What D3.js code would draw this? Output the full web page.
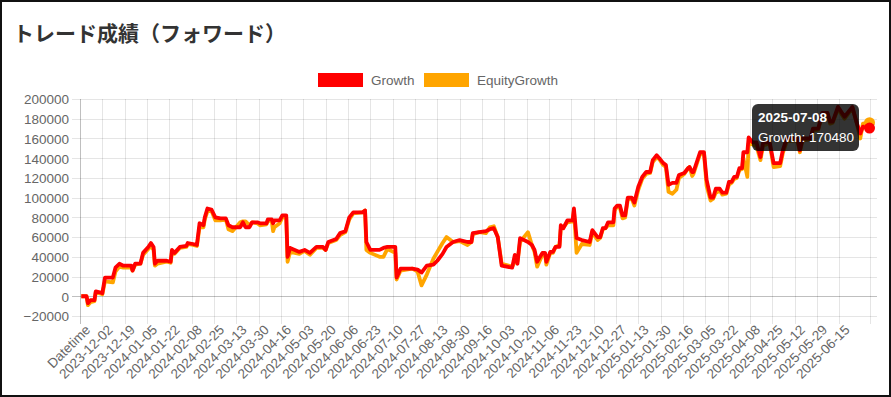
<!DOCTYPE html>
<html>
<head>
<meta charset="utf-8">
<script src="https://cdn.jsdelivr.net/npm/d3@7"></script>
<style>
  html, body { margin: 0; padding: 0; background: #fff; }
  svg { display: block; }
</style>
</head>
<body>
<svg id="chart"></svg>
<script>
// chart data
const title = 'トレード成績（フォワード）';
const seriesNames = ['Growth', 'EquityGrowth'];
const seriesColors = ['red', 'orange'];
const firstCategory = 'Datetime';
const startDate = '2023-11-15';
const endDate = '2025-07-08';

const tickLabels = ['Datetime', '2023-12-02', '2023-12-19', '2024-01-05', '2024-01-22', '2024-02-08',
  '2024-02-25', '2024-03-13', '2024-03-30', '2024-04-16', '2024-05-03', '2024-05-20', '2024-06-06',
  '2024-06-23', '2024-07-10', '2024-07-27', '2024-08-13', '2024-08-30', '2024-09-16', '2024-10-03',
  '2024-10-20', '2024-11-06', '2024-11-23', '2024-12-10', '2024-12-27', '2025-01-13', '2025-01-30',
  '2025-02-16', '2025-03-05', '2025-03-22', '2025-04-08', '2025-04-25', '2025-05-12', '2025-05-29',
  '2025-06-15'];
const yTicks = [-20000, 0, 20000, 40000, 60000, 80000, 100000, 120000, 140000, 160000, 180000, 200000];

const dates = [
  '2023-11-16', '2023-11-20', '2023-11-21', '2023-11-23', '2023-11-26', '2023-11-27', '2023-11-30',
  '2023-12-02', '2023-12-04', '2023-12-10', '2023-12-12', '2023-12-15', '2023-12-18', '2023-12-24',
  '2023-12-25', '2023-12-27', '2023-12-31', '2024-01-02', '2024-01-06', '2024-01-08', '2024-01-10',
  '2024-01-11', '2024-01-13', '2024-01-20', '2024-01-23', '2024-01-24', '2024-01-26', '2024-01-30',
  '2024-02-04', '2024-02-05', '2024-02-09', '2024-02-12', '2024-02-14', '2024-02-17', '2024-02-18',
  '2024-02-20', '2024-02-23', '2024-02-26', '2024-03-01', '2024-03-05', '2024-03-07', '2024-03-10',
  '2024-03-16', '2024-03-18', '2024-03-20', '2024-03-23', '2024-03-25', '2024-03-29', '2024-03-31',
  '2024-04-05', '2024-04-06', '2024-04-09', '2024-04-10', '2024-04-11', '2024-04-15', '2024-04-17',
  '2024-04-20', '2024-04-21', '2024-04-23', '2024-04-30', '2024-05-04', '2024-05-08', '2024-05-13',
  '2024-05-18', '2024-05-20', '2024-05-22', '2024-05-28', '2024-05-31', '2024-06-04', '2024-06-07',
  '2024-06-10', '2024-06-17', '2024-06-19', '2024-06-20', '2024-06-23', '2024-06-30', '2024-07-03',
  '2024-07-06', '2024-07-12', '2024-07-13', '2024-07-16', '2024-07-25', '2024-07-29', '2024-08-01',
  '2024-08-05', '2024-08-10', '2024-08-13', '2024-08-17', '2024-08-20', '2024-08-25', '2024-08-30',
  '2024-09-05', '2024-09-08', '2024-09-09', '2024-09-14', '2024-09-19', '2024-09-22', '2024-09-25',
  '2024-09-28', '2024-10-01', '2024-10-09', '2024-10-11', '2024-10-13', '2024-10-15', '2024-10-21',
  '2024-10-24', '2024-10-26', '2024-10-28', '2024-11-01', '2024-11-03', '2024-11-04', '2024-11-07',
  '2024-11-09', '2024-11-11', '2024-11-14', '2024-11-15', '2024-11-17', '2024-11-20', '2024-11-24',
  '2024-11-25', '2024-11-27', '2024-12-01', '2024-12-07', '2024-12-09', '2024-12-13', '2024-12-15',
  '2024-12-17', '2024-12-19', '2024-12-21', '2024-12-25', '2024-12-26', '2024-12-28', '2024-12-30',
  '2025-01-01', '2025-01-03', '2025-01-05', '2025-01-08', '2025-01-10', '2025-01-13', '2025-01-16',
  '2025-01-19', '2025-01-22', '2025-01-24', '2025-01-27', '2025-01-29', '2025-02-01', '2025-02-03',
  '2025-02-05', '2025-02-08', '2025-02-11', '2025-02-13', '2025-02-17', '2025-02-20', '2025-02-21',
  '2025-02-23', '2025-02-24', '2025-03-01', '2025-03-04', '2025-03-06', '2025-03-09', '2025-03-11',
  '2025-03-13', '2025-03-16', '2025-03-18', '2025-03-21', '2025-03-23', '2025-03-25', '2025-03-27',
  '2025-03-29', '2025-03-31', '2025-04-02', '2025-04-03', '2025-04-06', '2025-04-07', '2025-04-10',
  '2025-04-13', '2025-04-16', '2025-04-18', '2025-04-23', '2025-04-26', '2025-05-01', '2025-05-03',
  '2025-05-06', '2025-05-14', '2025-05-16', '2025-05-18', '2025-05-24', '2025-05-26', '2025-05-30',
  '2025-06-02', '2025-06-06', '2025-06-08', '2025-06-10', '2025-06-14', '2025-06-19', '2025-06-25',
  '2025-06-28', '2025-07-01', '2025-07-03', '2025-07-08'];

const growth = [
  0, 0, -7000, -4000, -4000, 5000, 4000,
  3000, 19000, 19000, 29000, 33000, 31000, 31000,
  26000, 33000, 33000, 44000, 50000, 54000, 50000,
  33000, 36000, 36000, 35000, 47000, 44000, 50000,
  51000, 54000, 53000, 52000, 74000, 72000, 80000,
  89000, 88000, 80000, 79000, 79000, 72000, 70000,
  70000, 75000, 70000, 70000, 75000, 75000, 74000,
  74000, 78000, 78000, 74000, 77000, 77000, 82000,
  82000, 40000, 49000, 45000, 47000, 44000, 50000,
  50000, 47000, 55000, 58000, 64000, 66000, 80000,
  85000, 85000, 87000, 55000, 47000, 47000, 49000,
  50000, 50000, 19000, 28000, 28000, 27000, 24000,
  31000, 32000, 36000, 43000, 50000, 55000, 57000,
  55000, 55000, 64000, 65000, 66000, 68000, 69000,
  60000, 31000, 29000, 42000, 33000, 59000, 55000,
  52000, 47000, 35000, 44000, 44000, 35000, 45000,
  45000, 50000, 50000, 72000, 69000, 77000, 77000,
  89000, 59000, 57000, 55000, 67000, 60000, 60000,
  69000, 69000, 75000, 75000, 89000, 92000, 92000,
  82000, 82000, 100000, 100000, 95000, 111000, 121000,
  126000, 126000, 138000, 143000, 140000, 135000, 133000,
  113000, 115000, 115000, 123000, 125000, 130000, 131000,
  126000, 126000, 146000, 146000, 118000, 100000, 100000,
  109000, 109000, 105000, 105000, 116000, 116000, 121000,
  121000, 130000, 130000, 146000, 146000, 161000, 156000,
  156000, 141000, 156000, 156000, 135000, 135000, 148000,
  160000, 160000, 148000, 160000, 160000, 170000, 170000,
  186000, 186000, 177000, 177000, 192000, 182000, 192000,
  177000, 165000, 172000, 170480];

const equityGrowth = [
  0, 0, -9000, -6000, -5000, 4000, 3000,
  2000, 15000, 14000, 25000, 30000, 29000, 29000,
  26000, 32000, 33000, 42000, 48000, 51000, 47000,
  31000, 33000, 35000, 34000, 45000, 43000, 49000,
  50000, 53000, 52000, 51000, 70000, 70000, 78000,
  86000, 87000, 77000, 77000, 78000, 68000, 66000,
  75000, 76000, 76000, 72000, 75000, 74000, 72000,
  73000, 77000, 76000, 66000, 70000, 74000, 80000,
  80000, 35000, 45000, 43000, 46000, 42000, 49000,
  49000, 47000, 54000, 57000, 62000, 65000, 78000,
  84000, 85000, 87000, 47000, 44000, 40000, 40000,
  48000, 44000, 17000, 26000, 28000, 25000, 11000,
  22000, 38000, 45000, 54000, 60000, 55000, 56000,
  52000, 55000, 63000, 65000, 64000, 70000, 71000,
  60000, 33000, 30000, 35000, 35000, 55000, 65000,
  52000, 45000, 30000, 42000, 43000, 32000, 44000,
  44000, 50000, 52000, 68000, 70000, 75000, 76000,
  87000, 44000, 53000, 52000, 65000, 57000, 59000,
  68000, 69000, 72000, 72000, 87000, 91000, 90000,
  79000, 80000, 98000, 99000, 92000, 108000, 119000,
  124000, 125000, 136000, 141000, 139000, 133000, 131000,
  106000, 104000, 108000, 120000, 124000, 130000, 131000,
  122000, 124000, 144000, 145000, 112000, 97000, 99000,
  105000, 107000, 103000, 104000, 113000, 115000, 119000,
  120000, 128000, 129000, 140000, 121000, 155000, 154000,
  152000, 138000, 153000, 155000, 131000, 132000, 145000,
  157000, 158000, 146000, 158000, 159000, 168000, 169000,
  183000, 185000, 175000, 176000, 190000, 180000, 191000,
  177000, 160000, 175000, 176000];

const hoverLabel = '2025-07-08';

const W = 891, H = 397;
const margin = { top: 99, left: 80, bottom: 316, plotRight: 869.5, gridRight: 877 };
const font = "'Helvetica Neue', Helvetica, Arial, 'Liberation Sans', sans-serif";
const textColor = '#666';

const svg = d3.select('#chart').attr('width', W).attr('height', H);
svg.append('rect').attr('width', W).attr('height', H).attr('fill', '#fff');

const parse = d3.utcParse('%Y-%m-%d');
const x = d3.scaleUtc()
  .domain([parse(startDate), parse(endDate)])
  .range([margin.left, margin.plotRight]);
const y = d3.scaleLinear()
  .domain([-20000, 200000])
  .range([margin.bottom, margin.top]);
const tickDate = l => l === firstCategory ? parse(startDate) : parse(l);

// title
svg.append('text')
  .attr('x', 13).attr('y', 41)
  .attr('font-family', "'Noto Sans CJK JP', sans-serif")
  .attr('font-weight', 'bold')
  .attr('font-size', 21)
  .attr('fill', '#333')
  .text(title);

// legend
const legend = svg.append('g').attr('font-family', font).attr('font-size', 13.5).attr('fill', textColor);
const legendX = [318, 424];
seriesNames.forEach((name, i) => {
  legend.append('rect')
    .attr('x', legendX[i]).attr('y', 73)
    .attr('width', 45).attr('height', 14)
    .attr('fill', seriesColors[i]);
  legend.append('text')
    .attr('x', legendX[i] + 53).attr('y', 85)
    .text(name);
});

// grid
const grid = svg.append('g');
grid.selectAll('line.h')
  .data(yTicks)
  .enter().append('line')
  .attr('x1', margin.left - 8).attr('x2', margin.gridRight)
  .attr('y1', d => Math.round(y(d)) + 0.5).attr('y2', d => Math.round(y(d)) + 0.5)
  .attr('stroke', d => d === 0 ? 'rgba(0,0,0,0.25)' : 'rgba(0,0,0,0.1)');

const vTicks = tickLabels.map(tickDate).concat([parse(endDate)]);
grid.selectAll('line.v')
  .data(vTicks)
  .enter().append('line')
  .attr('x1', d => Math.round(x(d)) + 0.5).attr('x2', d => Math.round(x(d)) + 0.5)
  .attr('y1', margin.top).attr('y2', margin.bottom + 8)
  .attr('stroke', (d, i) => i === 0 ? 'rgba(0,0,0,0.25)' : 'rgba(0,0,0,0.1)');

// y axis labels
const yAxis = d3.axisLeft(y).tickValues(yTicks).tickFormat(d3.format('d')).tickSize(0).tickPadding(0);
const yg = svg.append('g')
  .attr('transform', `translate(${margin.left - 11},0)`)
  .call(yAxis);
yg.select('.domain').remove();
yg.selectAll('text')
  .attr('font-family', font).attr('font-size', 13.5).attr('fill', textColor)
  .attr('dy', '0.36em');

// x axis labels
const xAxis = d3.axisBottom(x)
  .tickValues(tickLabels.map(tickDate))
  .tickFormat((d, i) => tickLabels[i])
  .tickSize(0);
const xg = svg.append('g')
  .attr('transform', `translate(0,${margin.bottom})`)
  .call(xAxis);
xg.select('.domain').remove();
xg.selectAll('.tick text')
  .attr('font-family', font).attr('font-size', 13.5).attr('fill', textColor)
  .attr('text-anchor', 'end')
  .attr('x', 0).attr('y', 0).attr('dy', '0.7em')
  .attr('transform', 'translate(4,8) rotate(-45)');

// lines
const series = [growth, equityGrowth];
const line = d3.line()
  .x((d, i) => x(parse(dates[i])))
  .y(d => y(d));
// Chart.js draws the first dataset on top
[1, 0].forEach(k => {
  svg.append('path')
    .datum(series[k])
    .attr('d', line)
    .attr('fill', 'none')
    .attr('stroke', seriesColors[k])
    .attr('stroke-width', 3.8)
    .attr('stroke-linejoin', 'round');
});

// hovered points
const last = dates.length - 1;
[1, 0].forEach(k => {
  svg.append('circle')
    .attr('cx', x(parse(dates[last])))
    .attr('cy', y(series[k][last]))
    .attr('r', 5.5)
    .attr('fill', seriesColors[k]);
});

// tooltip
const tip = svg.append('g').attr('transform', 'translate(752,104)');
tip.append('rect')
  .attr('width', 107).attr('height', 47).attr('rx', 6)
  .attr('fill', 'rgba(0,0,0,0.8)');
tip.append('text')
  .attr('x', 6).attr('y', 18)
  .attr('font-family', font).attr('font-size', 13.5).attr('font-weight', 'bold')
  .attr('fill', '#fff')
  .text(hoverLabel);
tip.append('text')
  .attr('x', 6).attr('y', 38)
  .attr('font-family', font).attr('font-size', 13.5)
  .attr('fill', '#fff')
  .text(`${seriesNames[0]}: ${growth[last]}`);

// outer frame
svg.append('rect')
  .attr('x', 1).attr('y', 1).attr('width', W - 2).attr('height', H - 2)
  .attr('fill', 'none').attr('stroke', '#111').attr('stroke-width', 2);
</script>
</body>
</html>
